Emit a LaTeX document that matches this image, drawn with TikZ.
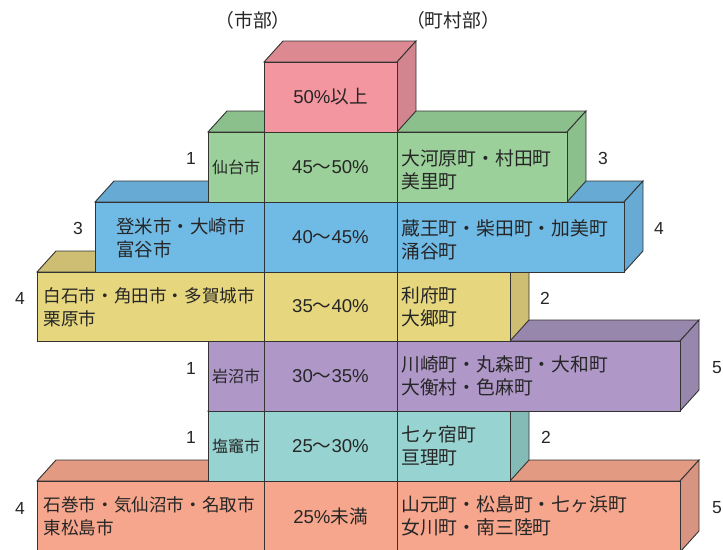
\documentclass[tikz,border=0pt]{standalone}
\usepackage{fontspec}
\setmainfont{Noto Sans CJK JP}
\newfontfamily\latn{Liberation Sans}
\definecolor{edgec}{HTML}{333333}
\definecolor{txtc}{HTML}{262626}
\definecolor{pinkF}{HTML}{F496A0}\definecolor{pinkT}{HTML}{DD8992}\definecolor{pinkS}{HTML}{D2858E}
\definecolor{greenF}{HTML}{9BD09A}\definecolor{greenT}{HTML}{8BBF8C}\definecolor{greenS}{HTML}{8BBF8C}
\definecolor{blueF}{HTML}{70BAE6}\definecolor{blueT}{HTML}{67AAD4}\definecolor{blueS}{HTML}{67AAD4}
\definecolor{yelF}{HTML}{E6D67E}\definecolor{yelT}{HTML}{CDBE73}\definecolor{yelS}{HTML}{CDBE73}
\definecolor{purF}{HTML}{AF98C8}\definecolor{purT}{HTML}{9887AD}\definecolor{purS}{HTML}{9887AD}
\definecolor{tealF}{HTML}{97D4D1}\definecolor{tealT}{HTML}{84BBB7}\definecolor{tealS}{HTML}{84BBB7}
\definecolor{oraF}{HTML}{F6A68C}\definecolor{oraT}{HTML}{E29A82}\definecolor{oraS}{HTML}{D79480}
% #1 left, #2 right, #3 top, #4 bottom, #5 colour prefix
\newcommand\pyrbox[5]{%
  \filldraw[edge, fill=#5T] (#1,#3) -- ++(19,-21) -- ({#2+19},{#3-21}) -- (#2,#3) -- cycle;
  \filldraw[edge, fill=#5S] (#2,#3) -- ({#2+19},{#3-21}) -- ({#2+19},{#4-21}) -- (#2,#4) -- cycle;
  \filldraw[edge, fill=#5F] (#1,#3) rectangle (#2,#4);
  \draw[edge] (264,#3) -- (264,#4) (397,#3) -- (397,#4);
}
\newcommand\pct[2]{{\latn #1}～{\latn #2\%}}
\begin{document}
\begin{tikzpicture}[x=1pt,y=-1pt,
  edge/.style={draw=edgec, line width=0.9pt, line join=miter},
  lbl/.style={text=txtc, inner sep=0pt, font=\fontsize{18.8}{23}\selectfont},
  mid/.style={lbl, font=\fontsize{18.6}{23}\selectfont},
  small/.style={lbl, font=\fontsize{16}{20}\selectfont},
  rtxt/.style={lbl, anchor=west, align=left},
  ltxt/.style={lbl, align=left, font=\fontsize{17.6}{23}\selectfont},
  num/.style={lbl, font=\fontsize{17.5}{22}\selectfont\latn}]
\useasboundingbox (0,0) rectangle (723,549);
\pyrbox{37}{680}{481}{552}{ora}
\pyrbox{208}{510}{411}{481}{teal}
\pyrbox{208}{680}{341}{411}{pur}
\pyrbox{37}{510}{272}{341}{yel}
\pyrbox{95}{624}{202}{272}{blue}
\pyrbox{208}{567}{132}{202}{green}
\pyrbox{264}{397}{62}{132}{pink}
% headers
\node[lbl] (hcity) at (253,20) {（市部）};
\node[lbl] (htown) at (453,20) {（町村部）};
% centre column
\node[mid] (c50) at (330.5,97) {{\latn 50\%}以上};
\node[mid] (c45) at (330.5,167) {\pct{45}{50}};
\node[mid] (c40) at (330.5,237) {\pct{40}{45}};
\node[mid] (c35) at (330.5,306.5) {\pct{35}{40}};
\node[mid] (c30) at (330.5,376) {\pct{30}{35}};
\node[mid] (c25) at (330.5,446) {\pct{25}{30}};
\node[mid] (c00) at (330.5,516) {{\latn 25\%}未満};
% cities
\node[small] (sendai) at (236,167) {仙台市};
\node[lbl, align=left, font=\fontsize{18.5}{23}\selectfont] (tome) at (181,238) {登米市・大崎市\\富谷市};
\node[ltxt, anchor=west] (shiro) at (43.5,307) {白石市・角田市・多賀城市\\栗原市};
\node[small] (iwanuma) at (236,376) {岩沼市};
\node[small] (shiogama) at (236,446) {塩竈市};
\node[ltxt, anchor=west] (ishi) at (43.5,516) {石巻市・気仙沼市・名取市\\東松島市};
% towns
\node[rtxt] (ogawara) at (401,170) {大河原町・村田町\\美里町};
\node[rtxt] (zao) at (401,239.5) {蔵王町・柴田町・加美町\\涌谷町};
\node[rtxt] (rifu) at (401,307) {利府町\\大郷町};
\node[rtxt] (kawa) at (401,376) {川崎町・丸森町・大和町\\大衡村・色麻町};
\node[rtxt] (shichi) at (401,446) {七ヶ宿町\\亘理町};
\node[rtxt] (yama) at (401,516) {山元町・松島町・七ヶ浜町\\女川町・南三陸町};
% counts
\node[num] (n1l) at (191,158) {1};
\node[num] (n1r) at (603,158) {3};
\node[num] (n2l) at (78,228) {3};
\node[num] (n2r) at (659,228) {4};
\node[num] (n3l) at (20,298) {4};
\node[num] (n3r) at (545,298) {2};
\node[num] (n4l) at (191,368) {1};
\node[num] (n4r) at (717,368) {5};
\node[num] (n5l) at (191,437) {1};
\node[num] (n5r) at (546,437) {2};
\node[num] (n6l) at (20,508) {4};
\node[num] (n6r) at (717,508) {5};
\end{tikzpicture}
\end{document}
